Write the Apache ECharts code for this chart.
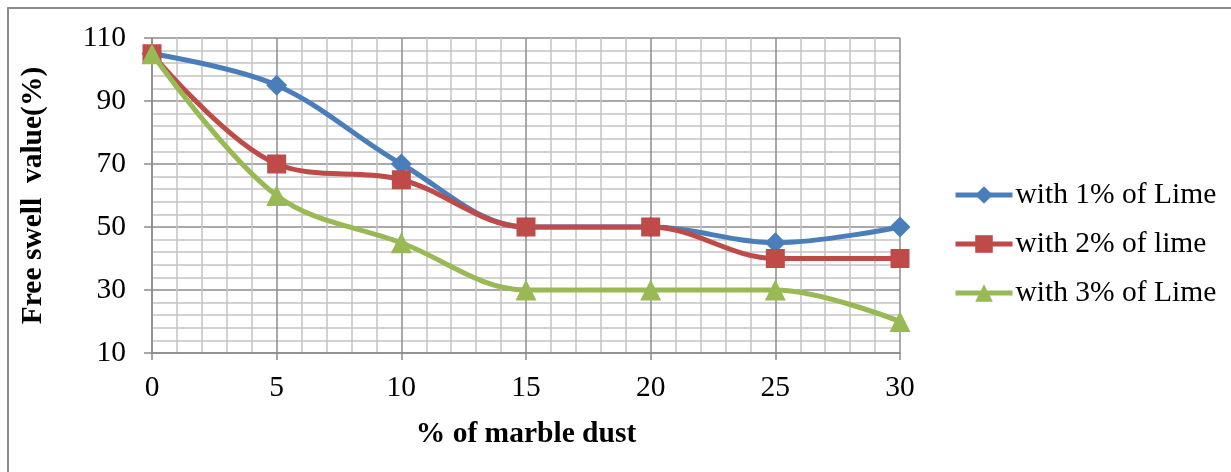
<!DOCTYPE html>
<html>
<head>
<meta charset="utf-8">
<script src="https://cdn.jsdelivr.net/npm/echarts@6/dist/echarts.min.js"></script>
<style>
  html, body { margin: 0; padding: 0; background: #fff; }
  #chart { width: 1231px; height: 472px; }
</style>
</head>
<body>
<div id="chart"></div>
<script>
// Free swell value vs. marble dust content, for three lime dosages
const marbleDust = [0, 5, 10, 15, 20, 25, 30];
const lime1 = [105, 95, 70, 50, 50, 45, 50];
const lime2 = [105, 70, 65, 50, 50, 40, 40];
const lime3 = [105, 60, 45, 30, 30, 30, 20];
const seriesNames = ['with 1% of Lime', 'with 2% of lime', 'with 3% of Lime'];

const FONT = '"Liberation Serif", "Times New Roman", serif';

function pairs(values) {
  return marbleDust.map((x, i) => [x, values[i]]);
}

function lineSeries(name, values, color, symbol, size) {
  return {
    name: name,
    type: 'line',
    data: pairs(values),
    smooth: 0.35,
    symbol: symbol,
    symbolSize: size,
    showAllSymbol: true,
    lineStyle: { color: color, width: 5 },
    itemStyle: { color: color },
    emphasis: { disabled: true },
    z: 3
  };
}

const chart = echarts.init(document.getElementById('chart'), null, { renderer: 'canvas' });

chart.setOption({
  animation: false,
  backgroundColor: '#ffffff',
  graphic: [{
    type: 'rect',
    shape: { x: 8, y: 8, width: 1300, height: 600 },
    style: { fill: 'none', stroke: '#8c8c8c', lineWidth: 2 },
    silent: true
  }],
  grid: { left: 152, right: 331, top: 38, bottom: 119, containLabel: false },
  legend: {
    orient: 'vertical',
    left: 948,
    top: 175,
    itemWidth: 57,
    itemHeight: 22,
    itemGap: 19,
    lineStyle: { width: 5 },
    textStyle: { fontFamily: FONT, fontSize: 29.5, color: '#000', padding: [0, 0, 0, -2] },
    data: seriesNames
  },
  xAxis: {
    type: 'value',
    min: 0, max: 30, interval: 5,
    name: '% of marble dust',
    nameLocation: 'middle',
    nameGap: 66,
    nameTextStyle: { fontFamily: FONT, fontSize: 29.5, fontWeight: 'bold', color: '#000' },
    axisLine: { show: true, onZero: false, lineStyle: { color: '#8c8c8c', width: 1.5 } },
    axisTick: { show: true, length: 7, lineStyle: { color: '#8c8c8c', width: 1.5 } },
    axisLabel: { fontFamily: FONT, fontSize: 29.5, color: '#000', margin: 20 },
    splitLine: { show: true, lineStyle: { color: '#8c8c8c', width: 1.5 } },
    minorTick: { show: false, splitNumber: 5 },
    minorSplitLine: { show: true, lineStyle: { color: '#c4c4c4', width: 1.5 } }
  },
  yAxis: {
    type: 'value',
    min: 10, max: 110, interval: 20,
    name: 'Free swell  value(%)',
    nameLocation: 'middle',
    nameGap: 104,
    nameRotate: 90,
    nameTextStyle: { fontFamily: FONT, fontSize: 29.5, fontWeight: 'bold', color: '#000' },
    axisLine: { show: true, onZero: false, lineStyle: { color: '#8c8c8c', width: 1.5 } },
    axisTick: { show: true, length: 8, lineStyle: { color: '#8c8c8c', width: 1.5 } },
    axisLabel: { fontFamily: FONT, fontSize: 29.5, color: '#000', margin: 26 },
    splitLine: { show: true, lineStyle: { color: '#8c8c8c', width: 1.5 } },
    minorTick: { show: false, splitNumber: 5 },
    minorSplitLine: { show: true, lineStyle: { color: '#c4c4c4', width: 1.5 } }
  },
  series: [
    lineSeries(seriesNames[0], lime1, '#4a7ebb', 'diamond', 21),
    lineSeries(seriesNames[1], lime2, '#be4b48', 'rect', 19),
    lineSeries(seriesNames[2], lime3, '#98b954', 'triangle', 21)
  ]
});
</script>
</body>
</html>
